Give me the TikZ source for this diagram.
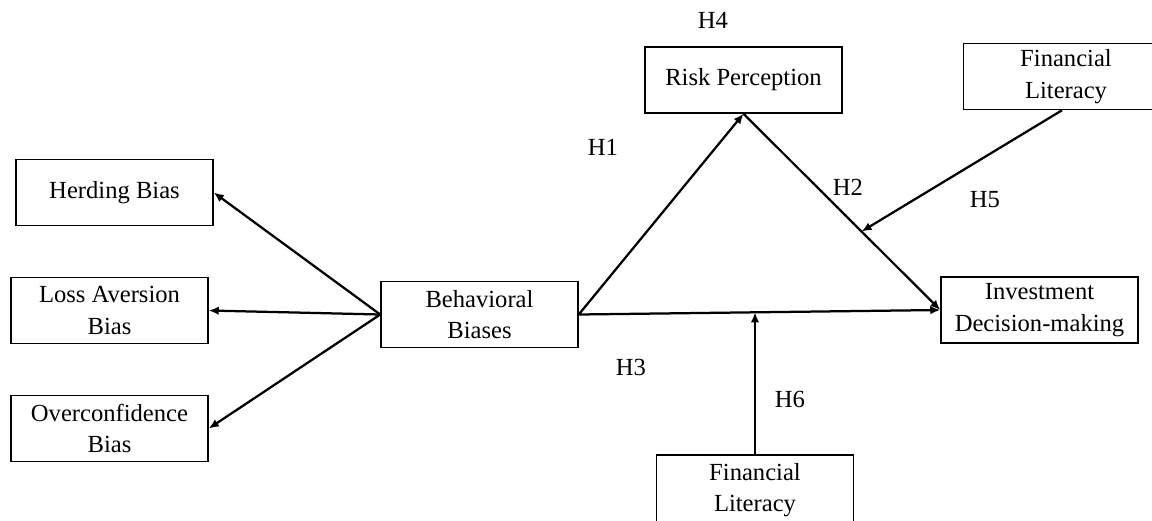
\documentclass[tikz,border=0pt]{standalone}
\usepackage{fontspec}
\setmainfont{Liberation Serif}
\usetikzlibrary{arrows.meta}
\tikzset{
	varbox/.style={draw, line width=0.3mm, minimum width=3.94cm, minimum height=1.32cm, align=center, inner sep=0pt, font=\fontsize{14}{18}\selectfont},
	hyp/.style={font=\fontsize{14}{18}\selectfont},
	path/.style={line width=0.45mm, -{Latex[length=2mm,width=1.7mm]}}
}

\begin{document}
\begin{tikzpicture}[x=0.2mm, y=-0.2mm]
		%%%%% START %%%%%
		
		\clip (0, 0) rectangle (1152, 520);
		
		\node[varbox] (herd) at (114.5, 192.5) {Herding Bias};
		\node[varbox] (loss) at (109.5, 310.5) {Loss Aversion\\Bias};
		\node[varbox] (over) at (109.5, 428.5) {Overconfidence\\Bias};
		
		\node[varbox] (beh) at (479.5, 314.5) {Behavioral\\Biases};
		\node[varbox] (risk) at (743.5, 80) {Risk Perception};
		\node[varbox] (invest) at (1039.5, 310) {Investment\\Decision-making};
		
		\node[varbox, minimum width=4.1cm] (litA) at (1066, 76.5) {Financial\\Literacy};
		\node[varbox, minimum height=1.4cm] (litB) at (755, 490) {Financial\\Literacy};
		
		\draw[path] (beh.west) -- (herd.east);
		\draw[path] (beh.west) -- (loss.east);
		\draw[path] (beh.west) -- (over.east);
		
		\draw[path] (beh.east) -- (risk.south);
		\draw[path] (risk.south) -- coordinate[pos=0.6] (m5) (invest.west);
		\draw[path] (beh.east) -- coordinate[pos=0.49] (m6) (invest.west);
		
		\draw[path] ([xshift=-0.8mm]litA.south) -- (m5);
		\draw[path] (litB.north) -- (litB.north |- m6);
		
		\node[hyp] (h4) at (713, 20) {H4};
		\node[hyp] (h1) at (603, 147) {H1};
		\node[hyp] (h2) at (848, 187) {H2};
		\node[hyp] (h5) at (985, 200) {H5};
		\node[hyp] (h3) at (631, 367) {H3};
		\node[hyp] (h6) at (790, 399) {H6};
		
		%%%%% END %%%%%
	\end{tikzpicture}
\end{document}
